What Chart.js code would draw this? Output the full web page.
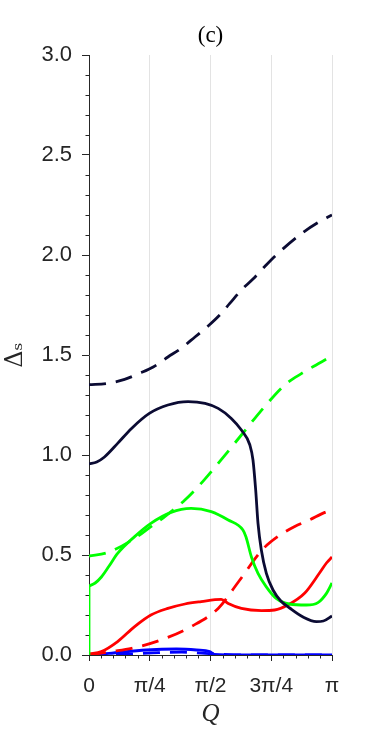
<!DOCTYPE html>
<html>
<head>
<meta charset="utf-8">
<title>(c)</title>
<script src="https://cdn.jsdelivr.net/npm/chart.js@4"></script>
<style>
  html, body { margin: 0; padding: 0; background: #fff; }
  #wrap { width: 367px; height: 736px; }
</style>
</head>
<body>
<div id="wrap"><canvas id="myChart" width="367" height="736"></canvas></div>
<script>
var PI = Math.PI;

// tick positions / labels along Q
var qTicks = [0, PI / 4, PI / 2, 3 * PI / 4, PI];
var qTickLabels = ["0", "π/4", "π/2", "3π/4", "π"];
var qMinorStep = PI / 20;
var yMinorStep = 0.1;

// dark navy, dashed
var navyDashQ = [0, 0.24, 0.46, 0.65, 0.83, 1.02, 1.19, 1.37, 1.54, 1.69, 1.82, 1.97, 2.12, 2.29, 2.42, 2.75, 2.95, PI];
var navyDashY = [1.352, 1.358, 1.378, 1.408, 1.44, 1.49, 1.533, 1.59, 1.645, 1.70, 1.758, 1.825, 1.88, 1.95, 2.0, 2.108, 2.16, 2.2];

// dark navy, solid
var navySolidQ = [0, 0.1, 0.2, 0.37, 0.55, 0.78, 1.02, 1.28, 1.50, 1.67, 1.84, 1.97, 2.08, 2.12, 2.155, 2.185, 2.228, 2.293, 2.379, 2.48, 2.594, 2.767, 2.94, 3.03, PI];
var navySolidY = [0.955, 0.965, 0.99, 1.058, 1.133, 1.208, 1.25, 1.267, 1.258, 1.233, 1.183, 1.125, 1.05, 0.975, 0.825, 0.658, 0.525, 0.408, 0.325, 0.27, 0.235, 0.19, 0.167, 0.17, 0.195];

// green, dashed
var greenDashQ = [0, 0.24, 0.59, 0.80, 0.98, 1.24, 1.47, 1.67, 1.97, 2.27, 2.53, 2.75, PI];
var greenDashY = [0.495, 0.512, 0.583, 0.642, 0.692, 0.775, 0.867, 0.958, 1.1, 1.242, 1.35, 1.408, 1.495];

// green, solid (jumps up at Q = 0)
var greenJumpQ = [0, 0];
var greenJumpY = [0, 0.345];
var greenSolidQ = [0, 0.08, 0.16, 0.26, 0.37, 0.59, 0.80, 1.06, 1.32, 1.58, 1.80, 1.99, 2.03, 2.10, 2.185, 2.29, 2.42, 2.59, 2.81, 2.96, 3.07, PI];
var greenSolidY = [0.345, 0.36, 0.39, 0.445, 0.508, 0.592, 0.658, 0.713, 0.733, 0.717, 0.675, 0.625, 0.59, 0.49, 0.408, 0.342, 0.283, 0.255, 0.25, 0.262, 0.308, 0.36];

// red, dashed
var redDashQ = [0, 0.29, 0.55, 0.93, 1.32, 1.67, 1.94, 2.25, 2.44, 2.66, 2.85, 3.05, PI];
var redDashY = [0, 0.017, 0.033, 0.075, 0.142, 0.233, 0.37, 0.53, 0.592, 0.642, 0.675, 0.713, 0.725];

// red, solid
var redSolidQ = [0, 0.16, 0.37, 0.59, 0.80, 1.02, 1.24, 1.45, 1.71, 1.80, 1.97, 2.23, 2.40, 2.57, 2.79, 2.98, 3.07, PI];
var redSolidY = [0.005, 0.017, 0.067, 0.142, 0.2, 0.233, 0.255, 0.267, 0.278, 0.258, 0.233, 0.222, 0.225, 0.25, 0.31, 0.41, 0.46, 0.49];

// blue, solid
var blueSolidQ = [0, 0.26, 0.74, 1.13, 1.39, 1.56, 1.62, 2.0, 2.5, PI];
var blueSolidY = [0, 0.008, 0.025, 0.03, 0.025, 0.017, 0.003, 0, 0, 0];

// blue, dashed
var blueDashQ = [0, 0.5, 0.9, 1.2, 1.5, 2.0, PI];
var blueDashY = [0, 0.004, 0.012, 0.014, 0.008, 0, 0];

function pts(q, y) {
    var out = [];
    for (var i = 0; i < q.length; i++) out.push({x: q[i], y: y[i]});
    return out;
}

function line(q, y, color, dashed) {
    return {
        data: pts(q, y),
        borderColor: color,
        backgroundColor: color,
        borderWidth: 2.8,
        borderDash: dashed ? [17, 10] : [],
        pointRadius: 0,
        fill: false,
        cubicInterpolationMode: 'monotone'
    };
}

var axisColor = '#262626';

// small ticks between the labelled ones
var minorTicks = {
    id: 'minorTicks',
    afterDraw: function(chart) {
        var ctx = chart.ctx, area = chart.chartArea;
        var xs = chart.scales.x, ys = chart.scales.y;
        ctx.save();
        ctx.strokeStyle = axisColor;
        ctx.lineWidth = 1;
        ctx.beginPath();
        for (var i = 0; i <= 30; i++) {
            if (i % 5 === 0) continue;
            var py = Math.round(ys.getPixelForValue(i * yMinorStep)) + 0.5;
            ctx.moveTo(area.left - 3.5, py);
            ctx.lineTo(area.left, py);
        }
        for (var k = 0; k <= 20; k++) {
            if (k % 5 === 0) continue;
            var px = Math.round(xs.getPixelForValue(k * qMinorStep)) + 0.5;
            ctx.moveTo(px, area.bottom);
            ctx.lineTo(px, area.bottom + 3.5);
        }
        ctx.stroke();
        ctx.restore();
    }
};

var ctx = document.getElementById('myChart').getContext('2d');
var chart = new Chart(ctx, {
    type: 'line',
    data: {
        datasets: [
            line(navySolidQ, navySolidY, '#0b0b33', false),
            line(navyDashQ, navyDashY, '#0b0b33', true),
            line(greenJumpQ, greenJumpY, '#00ff00', false),
            line(greenSolidQ, greenSolidY, '#00ff00', false),
            line(greenDashQ, greenDashY, '#00ff00', true),
            line(redSolidQ, redSolidY, '#ff0000', false),
            line(redDashQ, redDashY, '#ff0000', true),
            line(blueSolidQ, blueSolidY, '#0000ff', false),
            line(blueDashQ, blueDashY, '#0000ff', true)
        ]
    },
    options: {
        responsive: false,
        animation: false,
        events: [],
        layout: { padding: { left: 0, right: 35, top: 0, bottom: 7 } },
        plugins: {
            legend: { display: false },
            tooltip: { enabled: false },
            title: {
                display: true,
                text: '(c)',
                fullSize: false,
                color: '#000',
                font: { family: 'Liberation Serif', size: 23, weight: 'normal' },
                padding: { top: 22, bottom: 5.4 }
            }
        },
        scales: {
            x: {
                type: 'linear',
                min: 0,
                max: PI,
                afterBuildTicks: function(scale) {
                    scale.ticks = qTicks.map(function(v) { return {value: v}; });
                },
                afterFit: function(scale) { scale.height = 74; },
                ticks: {
                    autoSkip: false,
                    maxRotation: 0,
                    padding: 13,
                    color: axisColor,
                    font: { family: 'Liberation Sans', size: 21 },
                    callback: function(v, i) { return qTickLabels[i]; }
                },
                grid: {
                    color: function(c) { return c.index === 0 ? 'rgba(0,0,0,0)' : '#e3e3e3'; },
                    lineWidth: 1,
                    tickLength: 6,
                    tickColor: axisColor
                },
                border: { display: true, color: axisColor, width: 1 },
                title: {
                    display: true,
                    text: 'Q',
                    color: axisColor,
                    font: { family: 'Liberation Serif', size: 25, style: 'italic' },
                    padding: { top: 0, bottom: 0 }
                }
            },
            y: {
                min: 0,
                max: 3,
                afterFit: function(scale) { scale.width = 89; },
                ticks: {
                    stepSize: 0.5,
                    padding: 10,
                    color: axisColor,
                    font: { family: 'Liberation Sans', size: 22 },
                    callback: function(v) { return v.toFixed(1); }
                },
                grid: {
                    drawOnChartArea: false,
                    tickLength: 7,
                    tickColor: axisColor
                },
                border: { display: true, color: axisColor, width: 1 },
                title: {
                    display: true,
                    text: 'Δₛ',
                    color: axisColor,
                    font: { family: 'DejaVu Serif', size: 24 },
                    padding: { top: 1, bottom: 0 }
                }
            }
        }
    },
    plugins: [minorTicks]
});
</script>
</body>
</html>
